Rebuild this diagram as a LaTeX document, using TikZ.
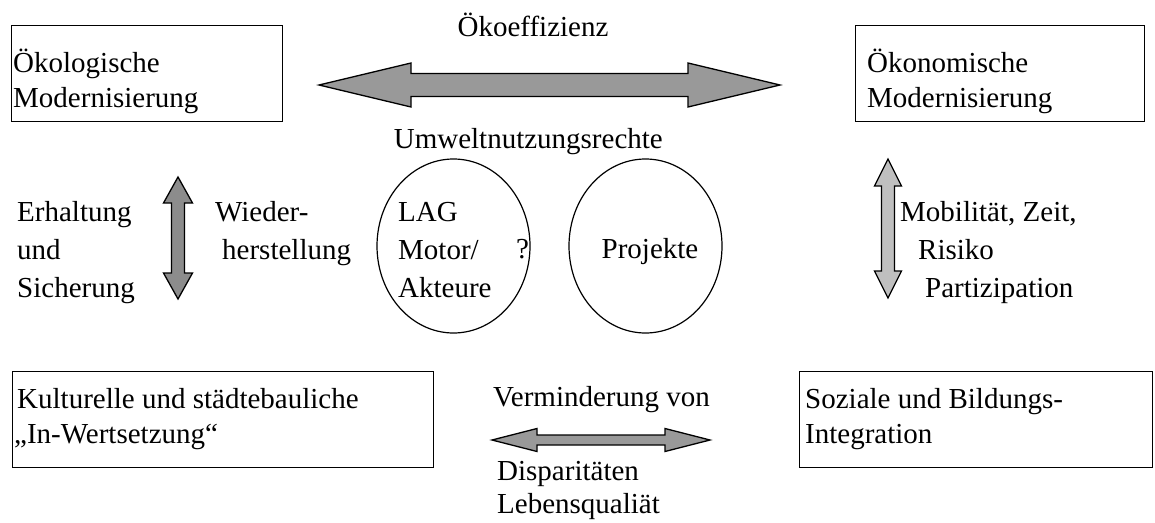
\documentclass[tikz,border=0pt]{standalone}
\usepackage{fontspec}
\setmainfont{Liberation Serif}
\usetikzlibrary{shapes.geometric}
\definecolor{topgray}{gray}{0.6}
\definecolor{leftgray}{gray}{0.55}
\definecolor{rightgray}{gray}{0.75}
\definecolor{botgray}{gray}{0.6}
% horizontal double block arrow: fill, xleft, xright, y, shaft half, head half, head length
\newcommand\hblock[7]{\draw[barrow,fill=#1] (#2,#4) -- (#2+#7,#4-#6) -- (#2+#7,#4-#5) -- (#3-#7,#4-#5) -- (#3-#7,#4-#6) -- (#3,#4) -- (#3-#7,#4+#6) -- (#3-#7,#4+#5) -- (#2+#7,#4+#5) -- (#2+#7,#4+#6) -- cycle;}
% vertical double block arrow: fill, x, ytop, ybottom, shaft half, head half, head length
\newcommand\vblock[7]{\draw[barrow,fill=#1] (#2,#3) -- (#2+#6,#3+#7) -- (#2+#5,#3+#7) -- (#2+#5,#4-#7) -- (#2+#6,#4-#7) -- (#2,#4) -- (#2-#6,#4-#7) -- (#2-#5,#4-#7) -- (#2-#5,#3+#7) -- (#2-#6,#3+#7) -- cycle;}
\begin{document}
\begin{tikzpicture}[x=1pt,y=-1pt,
  txt/.style={anchor=base west,inner sep=0pt,font=\fontsize{29}{34}\selectfont},
  ctxt/.style={txt,anchor=base},
  frame/.style={draw,line width=1.3pt,inner sep=0pt,anchor=north west},
  oval/.style={draw,ellipse,line width=1.2pt,inner sep=0pt},
  barrow/.style={draw,line width=1.3pt,line join=miter}]
\path[use as bounding box] (0,0) rectangle (1155,522);

% ---- top row ----
\node[frame,minimum width=271pt,minimum height=96pt] (oekol) at (11,25) {};
\node[txt] (oekolA) at (13,72) {Ökologische};
\node[txt] (oekolB) at (13,107) {Modernisierung};

\node[frame,minimum width=289pt,minimum height=96pt] (oekon) at (855,25) {};
\node[txt] (oekonA) at (867,72) {Ökonomische};
\node[txt] (oekonB) at (867,107) {Modernisierung};

\node[ctxt] (effiz) at (533,36) {Ökoeffizienz};
\hblock{topgray}{319}{780}{85}{11.5}{22}{92}
\node[txt,anchor=base east] (umwelt) at (663,148) {Umweltnutzungsrechte};

% ---- middle row ----
\vblock{leftgray}{178}{177}{299}{6.5}{14.5}{26}
\node[txt] (erh) at (17,221) {Erhaltung};
\node[txt] (und) at (17,259) {und};
\node[txt] (sich) at (17,297) {Sicherung};
\node[txt] (wied) at (215,221) {Wieder-};
\node[txt] (herst) at (222,259) {herstellung};

\node[oval,minimum width=153pt,minimum height=174pt] (lag) at (453.5,246) {};
\node[txt] (lagA) at (398,221) {LAG};
\node[txt] (lagB) at (398,259) {Motor/};
\node[txt] (lagC) at (398,297) {Akteure};
\node[txt] (frage) at (516,258) {?};

\node[oval,minimum width=153pt,minimum height=174pt] (proj) at (645.5,246) {};
\node[ctxt] (projT) at (650,258) {Projekte};

\vblock{rightgray}{888}{159}{298}{6.5}{13.5}{27}
\node[txt] (mob) at (900,221) {Mobilität, Zeit,};
\node[txt] (ris) at (918,259) {Risiko};
\node[txt] (part) at (925,297) {Partizipation};

% ---- bottom row ----
\node[frame,minimum width=421pt,minimum height=96pt] (kult) at (12,371) {};
\node[txt] (kultA) at (17,408) {Kulturelle und städtebauliche};
\node[txt] (kultB) at (14,443) {„In-Wertsetzung“};

\node[frame,minimum width=353pt,minimum height=96pt] (soz) at (799,371) {};
\node[txt] (sozA) at (805,408) {Soziale und Bildungs-};
\node[txt] (sozB) at (805,443) {Integration};

\node[txt] (verm) at (493,406) {Verminderung von};
\hblock{botgray}{492}{710}{440}{5}{11.5}{45}
\node[txt] (disp) at (497,480) {Disparitäten};
\node[txt] (leb) at (497,513) {Lebensqualiät};
\end{tikzpicture}
\end{document}
